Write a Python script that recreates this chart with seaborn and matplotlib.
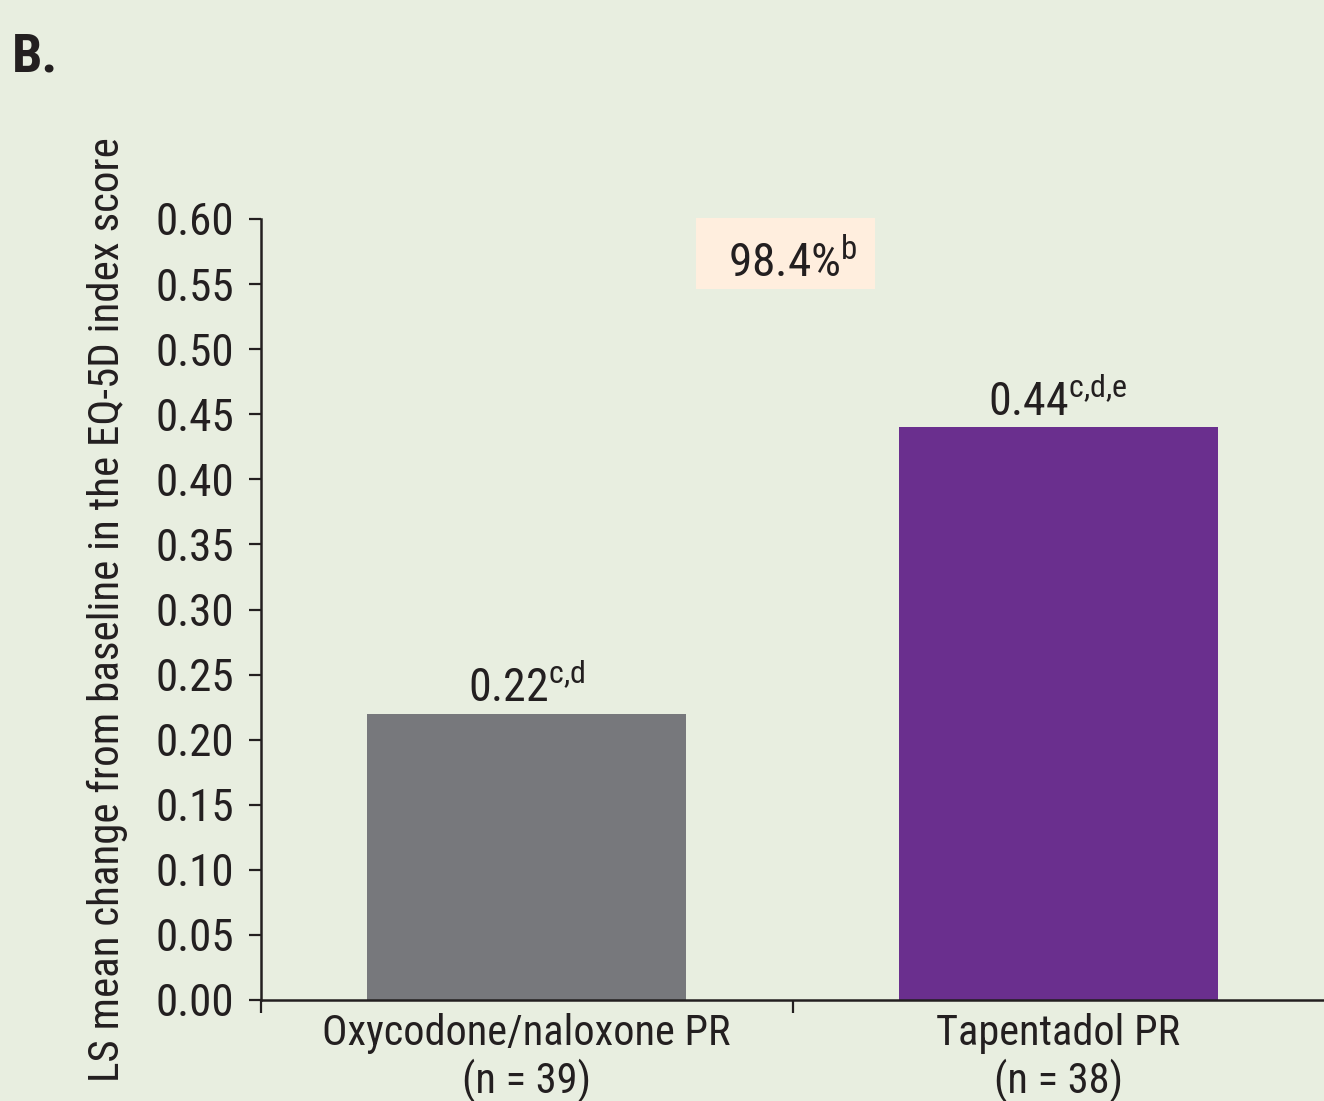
import matplotlib
matplotlib.use("Agg")
import matplotlib.pyplot as plt
from matplotlib import font_manager
import seaborn as sns
import pandas as pd
from matplotlib.patches import Rectangle

# ---- data ----
categories = ["Oxycodone/naloxone PR", "Tapentadol PR"]
n_values = [39, 38]
values = [0.22, 0.44]
value_text = ["0.22", "0.44"]
value_sup = ["c,d", "c,d,e"]
bar_colors = ["#77787c", "#6a2f8e"]
y_ticks = [0.00, 0.05, 0.10, 0.15, 0.20, 0.25, 0.30, 0.35, 0.40, 0.45, 0.50, 0.55, 0.60]
box_text = "98.4%"
box_sup = "b"
panel_label = "B."
y_label = "LS mean change from baseline in the EQ-5D index score"

BG = "#e8eee0"
INK = "#231f20"

sns.set_theme(style="ticks")

# pick a condensed font if available
names = {f.name for f in font_manager.fontManager.ttflist}
chosen = None
for cand in ["Liberation Sans Narrow", "Roboto Condensed", "Open Sans Condensed",
             "Noto Sans Condensed", "DejaVu Sans Condensed"]:
    if cand in names:
        chosen = cand
        break
condensed_stretch = False
if chosen is None:
    cond = [f for f in font_manager.fontManager.ttflist
            if ("ondensed" in f.fname or "arrow" in f.fname) and f.weight in (400, "normal", "regular")]
    if cond:
        chosen = cond[0].name
        condensed_stretch = True
    else:
        chosen = "DejaVu Sans"
        condensed_stretch = True
plt.rcParams["font.family"] = [chosen, "DejaVu Sans"]
if condensed_stretch:
    plt.rcParams["font.stretch"] = "condensed"
plt.rcParams["axes.facecolor"] = BG
plt.rcParams["figure.facecolor"] = BG


def sup(main, s):
    return main + r"$^{\mathregular{" + s.replace(",", "{,}") + "}}$"


tick_labels = [f"{c}\n(n = {n})" for c, n in zip(categories, n_values)]
df = pd.DataFrame({"cat": tick_labels, "val": values})

fig = plt.figure(figsize=(13.24, 11.01), dpi=100)
ax = fig.add_axes([261 / 1324, 1 - 1000 / 1101, 1 - 261 / 1324, (1000 - 219) / 1101])

sns.barplot(data=df, x="cat", y="val", hue="cat", palette=bar_colors,
            width=0.6, legend=False, ax=ax, saturation=1, linewidth=0)

ax.set_xlim(-0.5, 1.5)
ax.set_ylim(0, 0.60)
ax.set_yticks(y_ticks)
ax.set_yticklabels([f"{v:.2f}" for v in y_ticks], fontsize=32.5, color=INK)

ax.set_xticks([-0.5, 0.5])
ax.set_xticklabels([])
ax.set_xticks([0, 1], minor=True)
ax.set_xticklabels(tick_labels, minor=True, fontsize=30.5, color=INK, linespacing=1.15)
ax.tick_params(axis="x", which="major", length=9, width=1.6, color=INK, direction="out")
ax.tick_params(axis="x", which="minor", length=0, pad=9)
ax.tick_params(axis="y", length=9, width=1.6, color=INK, pad=10)

for s in ["top", "right"]:
    ax.spines[s].set_visible(False)
for s in ["left", "bottom"]:
    ax.spines[s].set_linewidth(1.8)
    ax.spines[s].set_color(INK)

ax.set_xlabel("")
ax.set_ylabel(y_label, fontsize=31, color=INK, labelpad=20)

for i, (v, t, sp) in enumerate(zip(values, value_text, value_sup)):
    ax.annotate(sup(t, sp), xy=(i, v), xytext=(0, 9),
                textcoords="offset points", ha="center", va="baseline",
                fontsize=33, color=INK)

ax.add_patch(Rectangle((0.409, 0.910), 0.169, 0.091, transform=ax.transAxes,
                       facecolor="#ffeede", edgecolor="none", clip_on=False, zorder=1))
ax.text(0.439, 0.926, sup(box_text, box_sup),
        transform=ax.transAxes, ha="left", va="baseline", fontsize=34, color=INK, zorder=2)

fig.text(12 / 1324, 1 - 71 / 1101, panel_label, fontsize=39, fontweight="bold",
         color=INK, ha="left", va="baseline")

fig.savefig("out.png", dpi=100, facecolor=BG)
